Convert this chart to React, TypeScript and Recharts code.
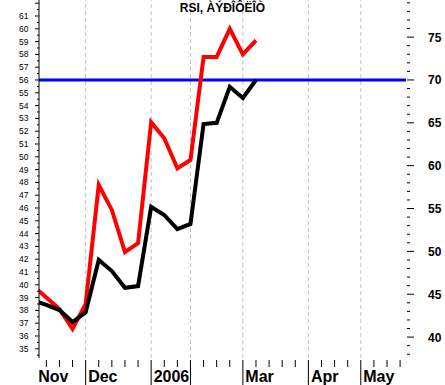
import React from "react"
import { LineChart, Line, XAxis, YAxis, ReferenceLine } from "recharts"

// weekly index (0 = first week tick inside the plot)
const WEEKS = [-1, 0, 1, 2, 3, 4, 5, 6, 7, 8, 9, 10, 11, 12, 13, 14, 15, 16]
// red line, left scale
const RED = [39.9, 39.0, 38.1, 36.55, 38.5, 47.8, 45.85, 42.55, 43.25, 52.7, 51.45, 49.1, 49.75, 57.8, 57.8, 60.0, 58.0, 59.1]
// black line (RSI), right scale
const BLACK = [44.3, 43.75, 43.15, 41.75, 42.9, 49.0, 47.7, 45.75, 45.95, 55.2, 54.25, 52.6, 53.2, 64.85, 65.0, 69.2, 67.9, 70.0]

const MONTH_WEEKS = [3, 8, 11, 15, 20, 24]
const MONTH_LABELS = ["Dec", "2006", "", "Mar", "Apr", "May"]
const FIRST_LABEL = "Nov"
const X_TICKS = Array.from({ length: 28 }, (_, i) => i)

const LEFT_TICKS = Array.from({ length: 56 }, (_, i) => 34.5 + i * 0.5)
const RIGHT_TICKS = Array.from({ length: 42 }, (_, i) => 38 + i)
const OVERBOUGHT = 70

const TITLE = "RSI, ÀÝÐÎÔËÎÒ"

const data = WEEKS.map((w, i) => ({ w, red: RED[i], black: BLACK[i] }))

const FONT = "'Liberation Sans', Arial, sans-serif"
const PLOT_LEFT = 39
const PLOT_BOTTOM = 358
const STEP = 13.1

const XTick = ({ x, payload }: any) => {
  const idx = MONTH_WEEKS.indexOf(payload.value)
  const parts: any[] = []
  if (idx >= 0) {
    parts.push(<line key="l" x1={x} x2={x} y1={PLOT_BOTTOM + 2} y2={385} stroke="#000" />)
    if (MONTH_LABELS[idx]) {
      parts.push(
        <text key="t" x={x + 2.5} y={382} fontSize={16} fontWeight="bold" fontFamily={FONT} fill="#000">
          {MONTH_LABELS[idx]}
        </text>
      )
    }
  } else {
    parts.push(<line key="l" x1={x} x2={x} y1={PLOT_BOTTOM + 2} y2={PLOT_BOTTOM + 9} stroke="#000" />)
  }
  if (payload.value === 0) {
    // month that started before the left edge, cut by it
    parts.push(
      <text key="n" x={x - STEP + 5} y={382} fontSize={16} fontWeight="bold" fontFamily={FONT} fill="#000" clipPath="url(#leftClip)">
        {FIRST_LABEL}
      </text>
    )
  }
  return <g>{parts}</g>
}

const LeftTick = ({ y, payload }: any) => {
  const v = payload.value
  const major = Number.isInteger(v)
  return (
    <g>
      <line x1={PLOT_LEFT - (major ? 4 : 2)} x2={PLOT_LEFT} y1={y} y2={y} stroke="#000" />
      {major && v <= 61 && (
        <text x={PLOT_LEFT - 10.5} y={y + 3} textAnchor="end" fontSize={8.5} fontFamily={FONT} fill="#000">
          {v}
        </text>
      )}
    </g>
  )
}

const RIGHT_X = 406

const RightTick = ({ y, payload }: any) => {
  const v = payload.value
  const major = v % 5 === 0
  return (
    <g>
      <line x1={RIGHT_X + 1} x2={RIGHT_X + (major ? 8 : 4)} y1={y} y2={y} stroke="#000" />
      {major && (
        <text x={428} y={y + 4.5} fontSize={12} fontWeight="bold" fontFamily={FONT} fill="#000">
          {v}
        </text>
      )}
    </g>
  )
}

export default function App() {
  return (
    <div style={{ position: "absolute", left: 0, top: 0, width: 445, height: 385, background: "#fff" }}>
      <LineChart width={445} height={385} data={data} margin={{ top: 0, right: 0, bottom: 0, left: 0 }}>
        <defs>
          <clipPath id="leftClip">
            <rect x={PLOT_LEFT} y={0} width={445} height={385} />
          </clipPath>
        </defs>
        <XAxis
          dataKey="w"
          type="number"
          domain={[-0.56, 27.45]}
          allowDataOverflow
          ticks={X_TICKS}
          interval={0}
          height={27}
          axisLine={false}
          tickLine={false}
          tick={<XTick />}
        />
        <YAxis
          yAxisId="left"
          domain={[34.28, 62.25]}
          allowDataOverflow
          ticks={LEFT_TICKS}
          interval={0}
          width={39}
          axisLine={{ stroke: "#000" }}
          tickLine={false}
          tick={<LeftTick />}
        />
        <YAxis
          yAxisId="right"
          orientation="right"
          domain={[37.56, 79.33]}
          allowDataOverflow
          ticks={RIGHT_TICKS}
          interval={0}
          width={39}
          axisLine={false}
          tickLine={false}
          tick={<RightTick />}
        />
        {MONTH_WEEKS.map((w) => (
          <ReferenceLine key={w} x={w} yAxisId="left" stroke="#c0c0c0" strokeDasharray="4 3" />
        ))}
        <ReferenceLine y={OVERBOUGHT} yAxisId="right" stroke="#0000ff" strokeWidth={3} />
        <Line
          yAxisId="left"
          dataKey="red"
          stroke="#ff0000"
          strokeWidth={4}
          dot={false}
          type="linear"
          isAnimationActive={false}
        />
        <Line
          yAxisId="right"
          dataKey="black"
          stroke="#000000"
          strokeWidth={4}
          dot={false}
          type="linear"
          isAnimationActive={false}
        />
      </LineChart>
      <div
        style={{
          position: "absolute",
          left: 0,
          top: 1,
          width: 445,
          textAlign: "center",
          fontFamily: FONT,
          fontWeight: "bold",
          fontSize: 12,
        }}
      >
        {TITLE}
      </div>
    </div>
  )
}
